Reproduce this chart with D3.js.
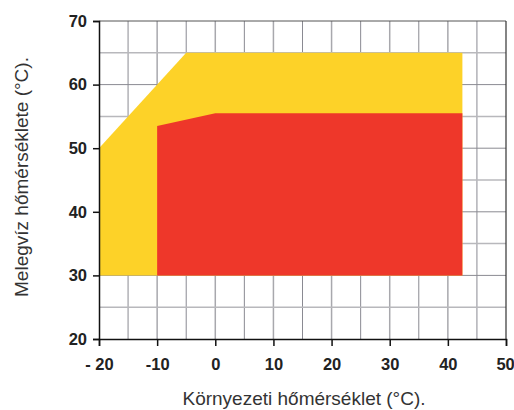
<!DOCTYPE html>
<html><head><meta charset="utf-8">
<script src="https://cdn.jsdelivr.net/npm/d3@7"></script>
<style>body{margin:0;background:#fff}svg{display:block}</style>
</head><body>
<script>
// Data
const yellowX = [-20, -20, -5, 42.5, 42.5];
const yellowY = [30, 50, 65, 65, 30];
const redX = [-10, -10, 0, 42.5, 42.5];
const redY = [30, 53.5, 55.5, 55.5, 30];
const xTicks = [-20, -10, 0, 10, 20, 30, 40, 50];
const xTickLabels = ["- 20", "-10", "0", "10", "20", "30", "40", "50"];
const yTicks = [20, 30, 40, 50, 60, 70];
const xTitle = "Környezeti hőmérséklet (°C).";
const yTitle = "Melegvíz hőmérséklete (°C).";

const W = 514, H = 410;
const svg = d3.select("body").append("svg").attr("width", W).attr("height", H);
const x = d3.scaleLinear().domain([-20, 50]).range([99, 506]);
const y = d3.scaleLinear().domain([20, 70]).range([339, 21]);
const font = "'Liberation Sans Narrow','Liberation Sans',Arial,sans-serif";

// grid
const gx = d3.range(-15, 50, 5), gy = d3.range(25, 70, 5);
svg.append("g").selectAll("line").data(gx).join("line")
  .attr("x1", d => x(d)).attr("x2", d => x(d)).attr("y1", y(70)).attr("y2", y(20))
  .attr("stroke", d => d % 10 === 0 ? "#a8a8ad" : "#8a8a92").attr("stroke-width", d => d % 10 === 0 ? 1.5 : 1);
svg.append("g").selectAll("line").data(gy).join("line")
  .attr("y1", d => y(d)).attr("y2", d => y(d)).attr("x1", x(-20)).attr("x2", x(50))
  .attr("stroke", d => d % 10 === 0 ? "#8a8a92" : "#b8b8bc").attr("stroke-width", d => d % 10 === 0 ? 1 : 1.5);

// areas
const line = d3.line().x(d => x(d[0])).y(d => y(d[1]));
svg.append("path").attr("d", line(d3.zip(yellowX, yellowY)) + "Z").attr("fill", "#FDD228");
svg.append("path").attr("d", line(d3.zip(redX, redY)) + "Z").attr("fill", "#EE372A");

// frame
svg.append("line").attr("x1", x(-20)).attr("x2", x(50)).attr("y1", y(70)).attr("y2", y(70)).attr("stroke", "#555").attr("stroke-width", 1);
svg.append("line").attr("x1", x(50)).attr("x2", x(50)).attr("y1", y(70)).attr("y2", y(20)).attr("stroke", "#333").attr("stroke-width", 1.2);

// axes
const xAxis = d3.axisBottom(x).tickValues(xTicks).tickFormat((d, i) => xTickLabels[i]).tickSize(7).tickPadding(12);
const gX = svg.append("g").attr("transform", `translate(0,${y(20)})`).call(xAxis);
const yAxis = d3.axisLeft(y).tickValues(yTicks).tickSize(6).tickPadding(6);
const gY = svg.append("g").attr("transform", `translate(${x(-20)},0)`).call(yAxis);
[gX, gY].forEach(g => {
  g.select(".domain").attr("stroke", "#111").attr("stroke-width", 1.5);
  g.selectAll(".tick line").attr("stroke", "#111").attr("stroke-width", 1.5);
  g.selectAll("text").attr("font-family", font).attr("font-weight", "bold").attr("font-size", 16.5).attr("fill", "#222");
});
gX.selectAll(".tick text").filter(d => d === 50).attr("text-anchor", "end").attr("dx", "0.5em");

svg.append("text").attr("x", 304).attr("y", 405).attr("text-anchor", "middle")
  .attr("font-family", font).attr("font-size", 19).attr("fill", "#333").text(xTitle);
svg.append("text").attr("transform", "translate(28,177) rotate(-90)").attr("text-anchor", "middle")
  .attr("font-family", font).attr("font-size", 19).attr("fill", "#333").text(yTitle);
</script>
</body></html>
